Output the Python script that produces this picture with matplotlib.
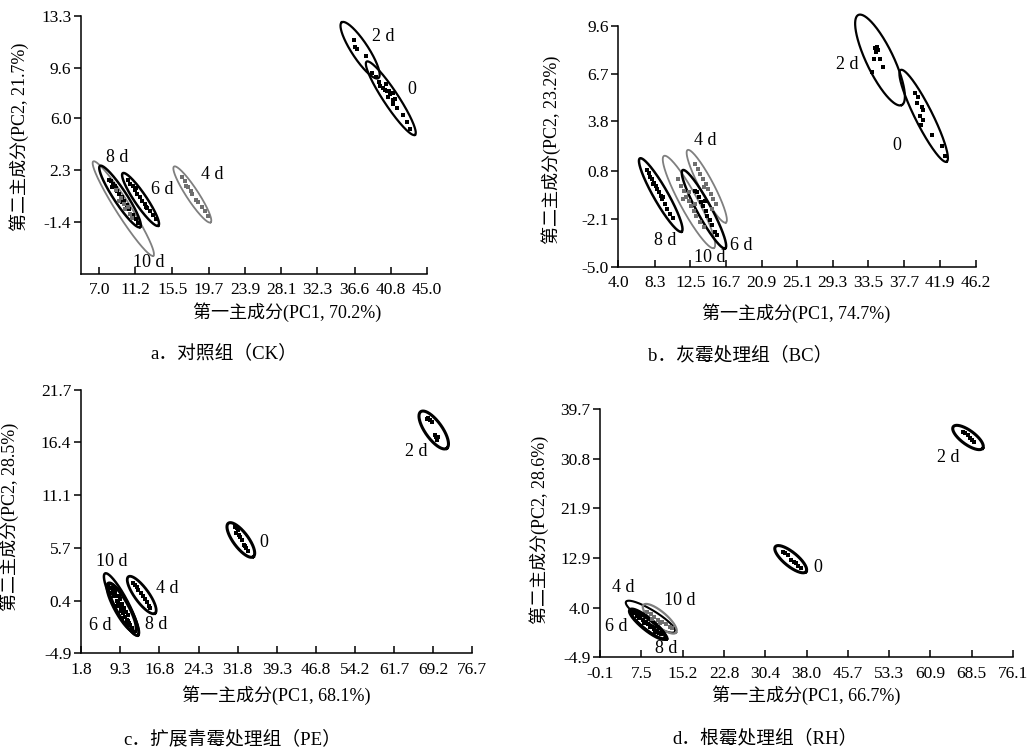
import numpy as np
import matplotlib
matplotlib.use("Agg")
import matplotlib.pyplot as plt

plt.rcParams['font.family'] = ['Liberation Serif', 'Noto Sans CJK SC', 'DejaVu Sans']
plt.rcParams['font.size'] = 12

# ---------------- data ----------------
# panel a: CK
a_xticks = [7.0, 11.2, 15.5, 19.7, 23.9, 28.1, 32.3, 36.6, 40.8, 45.0]
a_yticks = [-1.4, 2.3, 6.0, 9.6, 13.3]
a_xlim = (4.9, 45.0)
a_ylim = (-5.1, 13.3)
a_pts = {
    '2 d': ([36.5, 36.7, 36.9, 37.9, 38.6, 39.1, 39.4],
            [11.6, 11.1, 10.9, 10.4, 9.2, 8.9, 8.6]),
    '0': ([39.6, 39.9, 40.1, 40.4, 40.6, 40.7, 41.0, 40.5, 41.1, 41.3, 41.0, 41.5, 42.2, 42.7, 43.0, 40.3],
          [8.3, 8.15, 8.0, 7.9, 7.9, 7.7, 7.8, 7.5, 7.3, 7.4, 7.0, 6.7, 6.2, 5.7, 5.2, 8.4]),
    '8 d': ([8.2, 8.4, 8.6, 8.9, 9.1, 9.3, 9.6, 9.9, 10.2, 10.5, 10.9, 11.3, 11.5, 8.8, 9.7, 8.5],
            [1.6, 1.5, 1.3, 1.0, 0.8, 0.6, 0.4, 0.1, -0.2, -0.5, -0.9, -1.2, -1.5, 1.2, 0.0, 1.1]),
    '10 d': ([9.0, 9.5, 9.9, 10.3, 10.6, 9.3, 10.0, 10.8],
             [0.9, 0.3, -0.1, -0.3, -0.8, 0.1, -0.5, -1.1]),
    '6 d': ([10.3, 10.6, 10.9, 11.1, 11.4, 11.7, 12.0, 12.3, 12.6, 12.9, 13.2, 13.6, 11.3, 12.4],
            [1.6, 1.3, 1.2, 0.9, 0.6, 0.4, 0.1, -0.1, -0.4, -0.6, -0.9, -1.2, 1.0, -0.3]),
    '4 d': ([16.6, 16.9, 17.1, 17.3, 17.6, 17.8, 18.2, 18.5, 18.9, 19.3, 19.6],
            [1.8, 1.5, 1.2, 1.1, 0.8, 0.6, 0.2, 0.0, -0.3, -0.6, -1.0]),
}
# ellipse: center x, center y, semi-axis dx, dy, minor/major ratio, line width
a_ell = {
    '2 d': (37.24, 10.84, -2.12, 1.99, 0.25, 1.6),
    '0': (40.8, 7.42, 2.80, -2.61, 0.17, 1.6),
    '10 d': (9.80, -0.44, 3.48, -3.36, 0.13, 1.3),
    '8 d': (9.42, 0.42, 2.32, -2.18, 0.18, 1.8),
    '6 d': (11.80, 0.21, 2.06, -1.87, 0.19, 1.8),
    '4 d': (17.8, 0.565, 2.12, -1.99, 0.18, 1.3),
}
a_lab = {'2 d': (39.9, 11.85), '0': (43.2, 8.06), '8 d': (9.1, 3.22),
         '6 d': (14.3, 0.95), '4 d': (20.1, 1.97), '10 d': (12.8, -4.31)}
a_gray = ['10 d', '4 d']

# panel b: BC
b_xticks = [4.0, 8.3, 12.5, 16.7, 20.9, 25.1, 29.3, 33.5, 37.7, 41.9, 46.2]
b_yticks = [-5.0, -2.1, 0.8, 3.8, 6.7, 9.6]
b_xlim = (4.0, 46.2)
b_ylim = (-5.0, 9.6)
b_pts = {
    '2 d': ([34.3, 34.5, 34.6, 34.4, 34.2, 34.9, 35.2, 33.9],
            [8.25, 8.3, 8.1, 8.0, 7.6, 7.6, 7.1, 6.8]),
    '0': ([39.0, 39.4, 39.8, 40.0, 39.6, 40.0, 39.7, 41.0, 42.15, 42.5, 39.2],
          [5.5, 5.3, 4.7, 4.5, 4.1, 3.9, 3.6, 3.0, 2.3, 1.7, 4.9]),
    '8 d': ([7.4, 7.6, 7.8, 8.0, 8.2, 8.4, 8.6, 8.8, 9.0, 9.2, 9.5, 9.8, 10.1, 10.4, 8.1, 9.3],
            [0.85, 0.7, 0.45, 0.3, 0.1, -0.1, -0.3, -0.5, -0.7, -0.9, -1.2, -1.5, -1.8, -2.05, 0.0, -0.8]),
    '10 d': ([11.0, 11.4, 11.8, 12.0, 12.3, 12.6, 12.9, 13.2, 13.6, 11.6, 12.4, 13.0, 14.1],
             [0.3, -0.1, -0.4, -0.8, -1.0, -1.3, -1.6, -1.9, -2.3, -0.9, -0.5, -1.2, -2.6]),
    '4 d': ([13.1, 13.4, 13.7, 14.0, 14.3, 14.6, 14.9, 15.2, 15.5, 14.1, 15.0],
            [1.2, 0.9, 0.6, 0.3, 0.0, -0.3, -0.6, -0.9, -1.2, -0.2, -1.5]),
    '6 d': ([13.0, 13.3, 13.5, 13.8, 14.0, 14.3, 14.5, 14.8, 15.1, 15.4, 15.7, 14.2],
            [-0.4, -0.5, -0.8, -1.1, -1.3, -1.6, -1.9, -2.2, -2.5, -2.9, -3.1, -1.0]),
}
b_ell = {
    '2 d': (34.88, 7.52, 2.56, -2.73, 0.27, 1.6),
    '0': (40.03, 4.14, 2.71, -2.78, 0.17, 1.6),
    '8 d': (9.01, -0.66, 2.46, -2.22, 0.17, 1.8),
    '10 d': (12.34, -1.08, 2.95, -2.79, 0.17, 1.3),
    '4 d': (14.44, -0.13, 2.26, -2.20, 0.17, 1.3),
    '6 d': (14.11, -1.52, 2.51, -2.37, 0.16, 1.8),
}
b_lab = {'2 d': (31.0, 7.26), '0': (36.9, 2.37), '4 d': (14.3, 2.63),
         '8 d': (9.5, -3.43), '6 d': (18.5, -3.69), '10 d': (14.85, -4.45)}
b_gray = ['10 d', '4 d']

# panel c: PE
c_xticks = [1.8, 9.3, 16.8, 24.3, 31.8, 39.3, 46.8, 54.2, 61.7, 69.2, 76.7]
c_yticks = [-4.9, 0.4, 5.7, 11.1, 16.4, 21.7]
c_xlim = (1.8, 76.7)
c_ylim = (-4.9, 21.7)
c_pts = {
    '2 d': ([68.0, 68.6, 69.6, 69.9, 70.2, 68.3, 68.9, 69.7, 70.0],
            [18.8, 18.7, 17.15, 16.8, 17.0, 18.9, 18.5, 17.0, 16.7]),
    '0': ([31.3, 31.6, 31.9, 31.5, 32.0, 32.3, 32.6, 32.9, 33.3, 33.7, 33.2],
          [7.9, 7.8, 7.6, 7.3, 7.1, 6.9, 6.5, 6.0, 5.7, 5.4, 5.9]),
    '6 d': ([7.5, 7.8, 8.0, 8.2, 8.4, 8.6, 8.8, 9.0, 9.2, 9.4, 9.6, 9.8, 10.0, 10.2, 10.4, 10.6, 10.8, 11.0,
             8.3, 8.9, 9.5, 10.1, 10.7, 9.1, 9.9],
            [1.7, 1.2, 1.6, 0.9, 1.3, 0.4, 0.9, 0.0, 0.6, -0.4, 0.1, -0.8, -0.3, -1.2, -0.7, -1.5, -1.0, -1.8,
             1.6, 0.2, -0.6, -0.6, -1.6, 0.9, -0.3]),
    '8 d': ([11.2, 11.5, 10.5, 9.7, 8.6],
            [-2.0, -2.3, -1.9, -1.3, -0.1]),
    '4 d': ([11.8, 12.1, 12.5, 12.8, 13.2, 13.6, 14.0, 14.4, 14.8, 15.0],
            [2.2, 2.0, 1.8, 1.5, 1.2, 0.9, 0.6, 0.3, -0.1, -0.3]),
}
c_ell = {
    '2 d': (69.31, 17.66, 2.49, -1.85, 0.38, 2.2),
    '0': (32.39, 6.55, 2.39, -1.69, 0.36, 2.2),
    '10 d': (9.50, 0.06, 3.10, -3.11, 0.20, 1.8),
    '6 d': (9.59, -0.27, 2.55, -2.44, 0.25, 2.4),
    '8 d': (10.0, -0.5, 2.70, -2.60, 0.22, 1.8),
    '4 d': (13.42, 0.99, 2.55, -1.85, 0.31, 2.0),
}
c_lab = {'2 d': (65.9, 15.47), '0': (36.7, 6.27), '10 d': (7.7, 4.35),
         '4 d': (18.3, 1.67), '6 d': (5.4, -2.04), '8 d': (16.2, -1.94)}
c_gray = []

# panel d: RH
d_xticks = [-0.1, 7.5, 15.2, 22.8, 30.4, 38.0, 45.7, 53.3, 60.9, 68.5, 76.1]
d_yticks = [-4.9, 4.0, 12.9, 21.9, 30.8, 39.7]
d_xlim = (-0.1, 76.1)
d_ylim = (-4.9, 39.7)
d_pts = {
    '2 d': ([66.9, 67.8, 68.5, 69.0, 67.3, 68.2],
            [35.6, 35.0, 34.1, 33.8, 35.3, 34.5]),
    '0': ([33.6, 34.5, 35.1, 36.1, 37.0, 34.0, 35.6, 36.5],
          [14.1, 13.5, 12.6, 12.0, 11.1, 13.8, 12.3, 11.5]),
    '6 d': ([6.3, 6.8, 7.3, 7.8, 8.3, 8.8, 9.3, 9.8, 10.3, 10.8, 7.0, 8.0, 9.0, 10.0, 6.6, 11.2],
            [3.0, 2.6, 2.2, 1.8, 1.4, 1.0, 0.6, 0.2, -0.2, -0.5, 2.1, 1.3, 0.5, -0.3, 2.5, -0.8]),
    '10 d': ([8.5, 9.2, 9.9, 10.6, 11.3, 12.0, 12.7, 13.2, 9.5, 11.0],
             [3.2, 2.8, 2.3, 1.8, 1.4, 1.0, 0.6, 0.3, 2.0, 1.2]),
}
d_ell = {
    '2 d': (67.84, 34.58, 2.72, -1.94, 0.38, 2.2),
    '0': (35.08, 12.72, 2.83, -2.25, 0.35, 2.2),
    '4 d': (9.18, 2.39, 4.53, -2.69, 0.23, 1.5),
    '10 d': (10.88, 2.02, 3.02, -2.48, 0.33, 1.6),
    '6 d': (8.62, 1.05, 3.23, -2.55, 0.25, 2.6),
    '8 d': (9.0, 0.7, 3.23, -2.35, 0.22, 1.8),
}
d_lab = {'2 d': (64.1, 31.03), '0': (40.1, 11.19), '4 d': (4.15, 7.67),
         '10 d': (14.5, 5.27), '6 d': (2.8, 0.6), '8 d': (12.0, -3.28)}
d_gray = ['10 d']

panels = [
    dict(pos=[0.0785, 0.6332, 0.3353, 0.3458], xt=a_xticks, yt=a_yticks, xl=a_xlim, yl=a_ylim,
         pts=a_pts, ell=a_ell, lab=a_lab, gray=a_gray,
         xlabel='第一主成分(PC1, 70.2%)', ylabel='第二主成分(PC2, 21.7%)', cap='a．对照组（CK）',
         xlp=(0.278, 0.582), ylp=(0.019, 0.817), cp=(0.217, 0.527)),
    dict(pos=[0.5991, 0.6430, 0.3466, 0.3226], xt=b_xticks, yt=b_yticks, xl=b_xlim, yl=b_ylim,
         pts=b_pts, ell=b_ell, lab=b_lab, gray=b_gray,
         xlabel='第一主成分(PC1, 74.7%)', ylabel='第二主成分(PC2, 23.2%)', cap='b．灰霉处理组（BC）',
         xlp=(0.771, 0.581), ylp=(0.534, 0.799), cp=(0.717, 0.525)),
    dict(pos=[0.0785, 0.1254, 0.3792, 0.3525], xt=c_xticks, yt=c_yticks, xl=c_xlim, yl=c_ylim,
         pts=c_pts, ell=c_ell, lab=c_lab, gray=c_gray,
         xlabel='第一主成分(PC1, 68.1%)', ylabel='第二主成分(PC2, 28.5%)', cap='c．扩展青霉处理组（PE）',
         xlp=(0.268, 0.070), ylp=(0.009, 0.308), cp=(0.225, 0.010)),
    dict(pos=[0.5817, 0.1201, 0.3996, 0.3324], xt=d_xticks, yt=d_yticks, xl=d_xlim, yl=d_ylim,
         pts=d_pts, ell=d_ell, lab=d_lab, gray=d_gray,
         xlabel='第一主成分(PC1, 66.7%)', ylabel='第二主成分(PC2, 28.6%)', cap='d．根霉处理组（RH）',
         xlp=(0.781, 0.070), ylp=(0.522, 0.290), cp=(0.741, 0.010)),
]

W, H = 10.32, 7.47
fig = plt.figure(figsize=(W, H), dpi=100)
t = np.linspace(0, 2 * np.pi, 300)

for p in panels:
    ax = fig.add_axes(p['pos'])
    ax.set_xlim(*p['xl'])
    ax.set_ylim(*p['yl'])
    # px per data unit, to keep the minor axis perpendicular on screen
    sx = W * 100 * p['pos'][2] / (p['xl'][1] - p['xl'][0])
    sy = H * 100 * p['pos'][3] / (p['yl'][1] - p['yl'][0])
    for name, (cx, cy, mx, my, r, lw) in p['ell'].items():
        nx = -r * my * sy / sx
        ny = r * mx * sx / sy
        ex = cx + mx * np.cos(t) + nx * np.sin(t)
        ey = cy + my * np.cos(t) + ny * np.sin(t)
        col = '#7f7f7f' if name in p['gray'] else 'black'
        ax.plot(ex, ey, color=col, lw=lw, clip_on=False)
    for name, (xs, ys) in p['pts'].items():
        col = '#6e6e6e' if name in p['gray'] else 'black'
        ax.plot(xs, ys, 's', ms=2.6, color=col, mew=0)
    for name, (lx, ly) in p['lab'].items():
        ax.text(lx, ly, name, ha='center', va='center', fontsize=13)

    for s in ['top', 'right']:
        ax.spines[s].set_visible(False)
    for s in ['left', 'bottom']:
        ax.spines[s].set_linewidth(1.1)
    ax.set_xticks(p['xt'])
    ax.set_xticklabels(['%.1f' % v for v in p['xt']])
    ax.set_yticks(p['yt'])
    ax.set_yticklabels(['%.1f' % v for v in p['yt']])
    ax.tick_params(axis='x', direction='in', length=5, width=1.1, pad=6, labelsize=12.5)
    ax.tick_params(axis='y', direction='out', length=5, width=1.1, pad=2, labelsize=12.5)

    fig.text(p['xlp'][0], p['xlp'][1], p['xlabel'], ha='center', va='center', fontsize=13)
    fig.text(p['ylp'][0], p['ylp'][1], p['ylabel'], ha='center', va='center', fontsize=13, rotation=90)
    fig.text(p['cp'][0], p['cp'][1], p['cap'], ha='center', va='center', fontsize=13.5)

fig.savefig('out.png', dpi=100)
